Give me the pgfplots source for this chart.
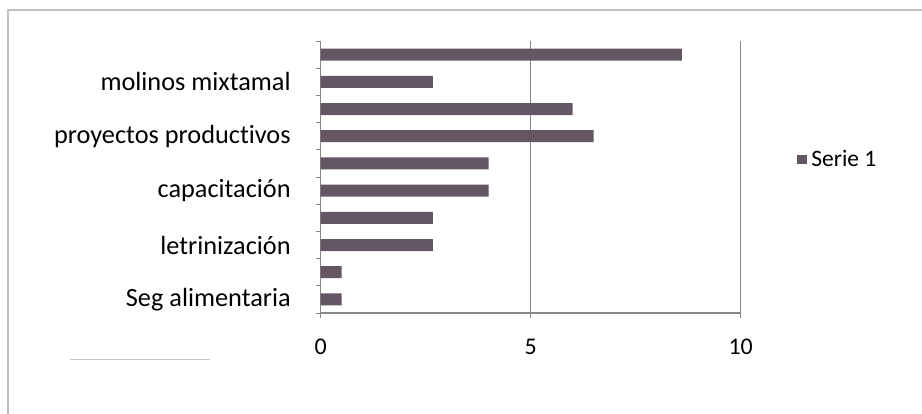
\documentclass[border=0pt]{standalone}
\usepackage{fontspec}
\setmainfont[Ligatures=NoCommon]{Carlito}
\usepackage{pgfplots}
\pgfplotsset{compat=1.18}
\definecolor{barcol}{RGB}{100,86,98}
\definecolor{axcol}{RGB}{135,135,135}
\begin{document}
\begin{tikzpicture}
\path[use as bounding box] (0,0) rectangle (461bp,207bp);
\fill[white] (0,0) rectangle (461bp,207bp);
\draw[gray!50, line width=0.6bp] (4bp,0) -- (4bp,202bp) -- (461bp,202bp);
\draw[gray!45, line width=0.5bp] (35bp,27bp) -- (105bp,27bp);
\begin{axis}[
    at={(160.35bp,50.5bp)}, anchor=south west,
    scale only axis, width=210bp, height=136bp,
    xbar, bar width=6bp,
    xmin=0, xmax=10, ymin=-0.5, ymax=9.5,
    axis lines*=left,
    axis line style={axcol, line width=0.6bp},
    xtick={0,5,10}, xmajorgrids,
    grid style={axcol, line width=0.6bp},
    ytick={-0.5,0.5,...,9.5}, yticklabels={},
    extra y ticks={0,2,4,6,8},
    extra y tick labels={Seg alimentaria,letrinización,capacitación,proyectos productivos,molinos mixtamal},
    extra y tick style={tick style={draw=none}},
    tick align=outside, major tick length=2.5bp,
    tick style={axcol, line width=0.5bp},
    /pgf/number format/assume math mode=true,
    xticklabel style={font=\fontsize{12}{14}\selectfont, yshift=-7bp},
    yticklabel style={font=\fontsize{13.2}{15}\selectfont, xshift=-9bp},
    legend style={at={(1.134,0.5625)}, anchor=west, draw=none, fill=none,
        font=\fontsize{11.8}{13}\selectfont, inner sep=0pt},
]
\addplot[draw=none, fill=barcol,
    legend image code/.code={\fill[barcol] (0bp,-2bp) rectangle (5bp,2.5bp);}]
  coordinates {(0.5,0) (0.5,1) (2.67,2) (2.67,3) (4,4) (4,5) (6.5,6) (6,7) (2.67,8) (8.6,9)};
\addlegendentry{Serie 1}
\end{axis}
\end{tikzpicture}
\end{document}
